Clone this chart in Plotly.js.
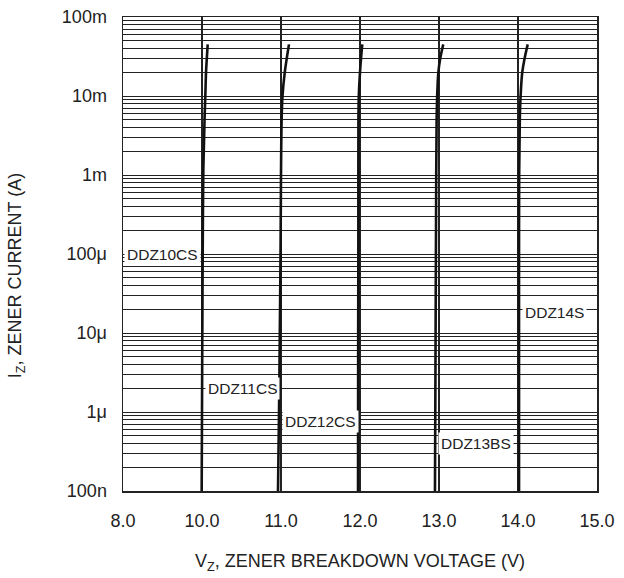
<!DOCTYPE html>
<html>
<head>
<meta charset="utf-8">
<script src="https://cdn.plot.ly/plotly-3.0.1.min.js"></script>
<style>html,body{margin:0;padding:0;background:#fff;}#chart{width:624px;height:578px;}</style>
</head>
<body>
<div id="chart"></div>
<script>
// Zener current (A) sample points, shared by all curves
const currentA = [1e-7, 1e-6, 1e-5, 1e-4, 1e-3, 5e-3, 1e-2, 2e-2, 3e-2, 4.5e-2];
// Breakdown voltage (V) read for each device (axis drawn from 9 to 15, first tick labelled "8.0")
const vDDZ10CS = [9.996, 10.000, 10.004, 10.009, 10.016, 10.032, 10.042, 10.051, 10.061, 10.072];
const vDDZ11CS = [10.962, 10.975, 10.985, 10.994, 11.000, 11.008, 11.019, 11.048, 11.073, 11.101];
const vDDZ12CS = [11.975, 11.976, 11.977, 11.979, 11.979, 11.980, 11.985, 12.000, 12.013, 12.029];
const vDDZ13BS = [12.949, 12.953, 12.957, 12.961, 12.965, 12.970, 12.977, 12.992, 13.016, 13.054];
const vDDZ14S  = [14.013, 14.013, 14.013, 14.013, 14.015, 14.023, 14.033, 14.054, 14.084, 14.123];

const deviceNames = ['DDZ10CS', 'DDZ11CS', 'DDZ12CS', 'DDZ13BS', 'DDZ14S'];
// label anchor (left edge voltage, current)
const labelV = [9.01, 10.04, 11.01, 12.99, 14.05];
const labelI = [1e-4, 2e-6, 7.5e-7, 4.0e-7, 1.83e-5];

// x axis ticks
const xTickVals = [9, 10, 11, 12, 13, 14, 15];
const xTickText = ['8.0', '10.0', '11.0', '12.0', '13.0', '14.0', '15.0'];
// y axis decade labels
const yDecades = [1e-7, 1e-6, 1e-5, 1e-4, 1e-3, 1e-2, 1e-1];
const yDecadeText = ['100n', '1\u03bc', '10\u03bc', '100\u03bc', '1m', '10m', '100m'];
const minorDigits = [1, 2, 3, 4, 5, 6, 7, 8, 9];

const yTickVals = [];
const yTickText = [];
yDecades.forEach((d, i) => {
  if (i < yDecades.length - 1) {
    minorDigits.forEach(m => {
      yTickVals.push(d * m);
      yTickText.push(m === 1 ? yDecadeText[i] : '');
    });
  } else {
    yTickVals.push(d);
    yTickText.push(yDecadeText[i]);
  }
});

const series = [vDDZ10CS, vDDZ11CS, vDDZ12CS, vDDZ13BS, vDDZ14S];
const traces = series.map((v, i) => ({
  x: v, y: currentA, type: 'scatter', mode: 'lines', name: deviceNames[i],
  line: {color: '#111', width: 2.6, shape: 'spline'}, showlegend: false, hoverinfo: 'skip'
}));

const FONT = 'Liberation Sans, Arial, sans-serif';
const annotations = deviceNames.map((n, i) => ({
  x: labelV[i], y: Math.log10(labelI[i]), xref: 'x', yref: 'y',
  text: n, showarrow: false, xanchor: 'left', yanchor: 'middle',
  bgcolor: '#ffffff', borderpad: 2,
  font: {family: FONT, size: 15.5, color: '#222'}
}));
// y axis title placed as rotated text
annotations.push({
  x: -0.224, y: 0.455, xref: 'paper', yref: 'paper', xanchor: 'center', yanchor: 'middle',
  text: 'I<sub>Z</sub>, ZENER CURRENT (A)', textangle: -90, showarrow: false,
  font: {family: FONT, size: 18, color: '#222'}
});

const layout = {
  width: 624, height: 578,
  margin: {l: 123, r: 27, t: 17, b: 87, pad: 0},
  paper_bgcolor: '#fff', plot_bgcolor: '#fff',
  font: {family: FONT, color: '#222'},
  xaxis: {
    range: [9, 15], tickmode: 'array', tickvals: xTickVals, ticktext: xTickText,
    showgrid: true, gridcolor: '#222', gridwidth: 1.6,
    showline: true, linecolor: '#222', linewidth: 1.5, mirror: true,
    ticks: '', ticklabelstandoff: 13, zeroline: false,
    tickfont: {family: FONT, size: 18, color: '#222'},
    title: {text: 'V<sub>Z</sub>, ZENER BREAKDOWN VOLTAGE (V)', font: {family: FONT, size: 18, color: '#222'}, standoff: 24}
  },
  yaxis: {
    type: 'log', range: [-7, -1], tickmode: 'array', tickvals: yTickVals, ticktext: yTickText,
    showgrid: true, gridcolor: '#222', gridwidth: 1,
    showline: true, linecolor: '#222', linewidth: 1.5, mirror: true,
    ticks: '', ticklabelstandoff: 11, zeroline: false,
    tickfont: {family: FONT, size: 18, color: '#222'}
  },
  annotations: annotations,
  showlegend: false
};

Plotly.newPlot('chart', traces, layout, {staticPlot: true, displayModeBar: false});
</script>
</body>
</html>
